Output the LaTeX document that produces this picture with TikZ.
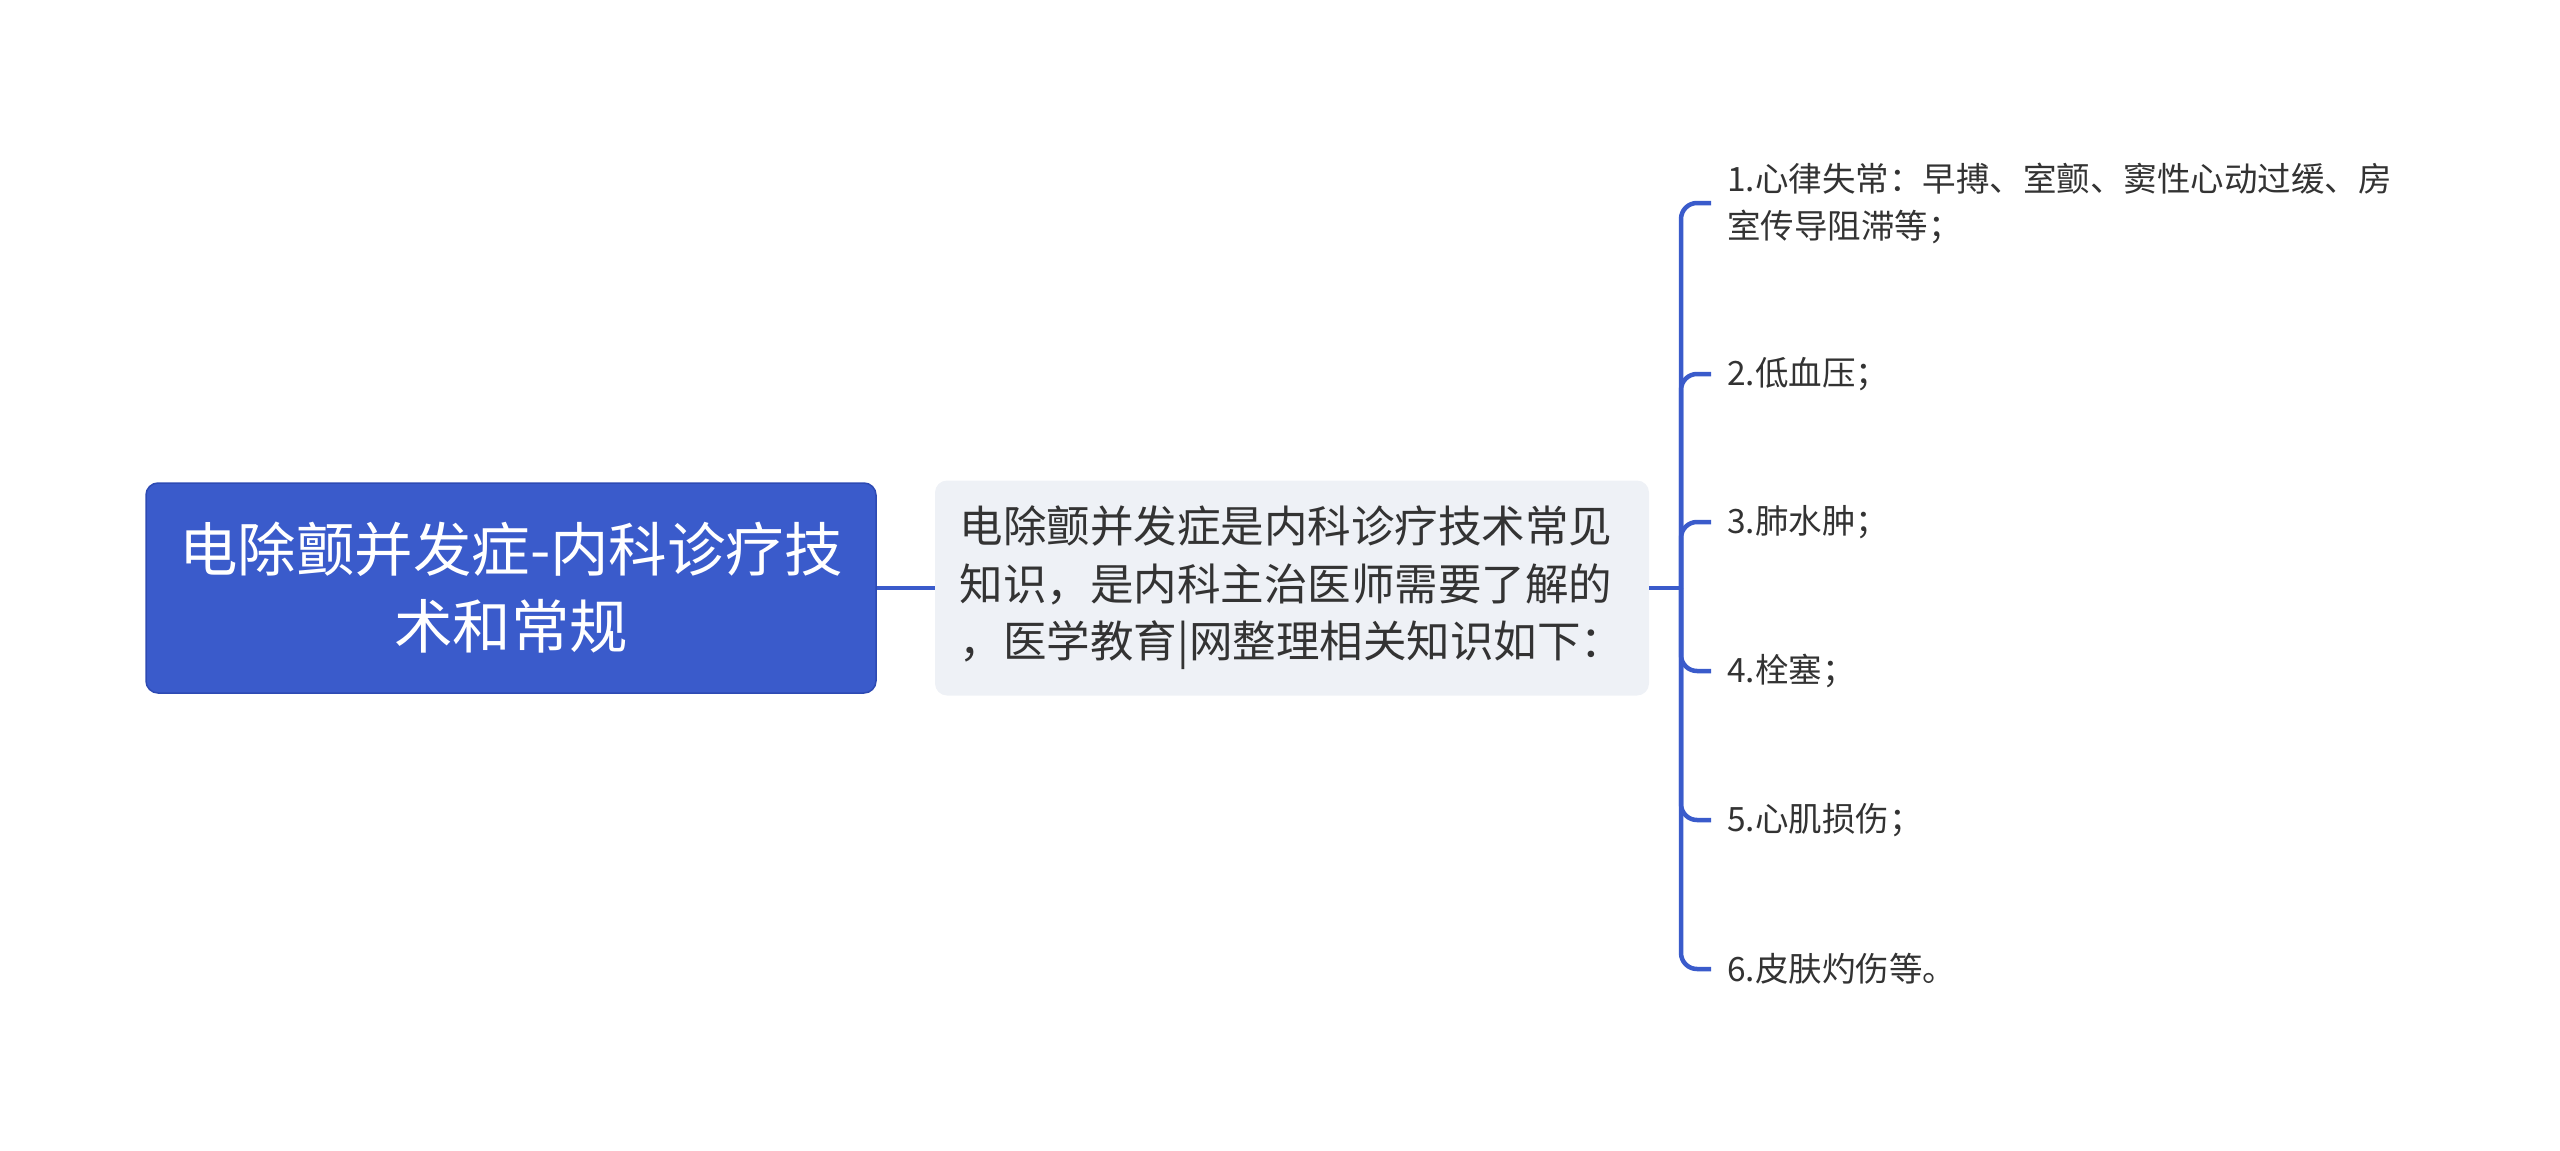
\documentclass[tikz,border=0pt]{standalone}
\usepackage{fontspec}
\setmainfont{Noto Sans CJK SC}
\usetikzlibrary{positioning}
\definecolor{mapblue}{HTML}{3A5BCB}
\definecolor{rootline}{HTML}{2D4AB3}
\definecolor{subfill}{HTML}{EEF1F6}
\definecolor{darktext}{HTML}{333333}
\tikzset{%
  rootbox/.style={draw=rootline,line width=1.5pt,fill=mapblue,
    rounded corners=12pt,text=white,minimum width=730pt,
    minimum height=210pt,align=center,
    font=\fontsize{58.5}{77}\selectfont},%
  subbox/.style={fill=subfill,rounded corners=12pt,text=darktext,
    minimum width=714pt,minimum height=215pt,align=left,
    font=\fontsize{43.5}{57.5}\selectfont},%
  leafnode/.style={anchor=west,inner xsep=16pt,inner ysep=0pt,
    text=darktext,align=left,font=\fontsize{33.5}{47}\selectfont},%
  branch/.style={draw=mapblue,line width=4.5pt,rounded corners=16pt}%
}
\begin{document}
\begin{tikzpicture}[x=1pt,y=-1pt]
  \useasboundingbox (0,0) rectangle (2560,1151);% page
  \node[rootbox] (root) at (511,588) {电除颤并发症-内科诊疗技\\术和常规};% main topic
  \node[subbox] (intro) at (1292,588)
    {电除颤并发症是内科诊疗技术常见\\知识，是内科主治医师需要了解的\\，医学教育|网整理相关知识如下：};% summary
  \coordinate (fork) at (1681,588);

  %leaves
  \node[leafnode] (l1) at (1711,203) {1.心律失常：早搏、室颤、窦性心动过缓、房\\室传导阻滞等；};
  \node[leafnode] (l2) at (1711,374) {2.低血压；};
  \node[leafnode] (l3) at (1711,522) {3.肺水肿；};
  \node[leafnode] (l4) at (1711,671) {4.栓塞；};
  \node[leafnode] (l5) at (1711,820) {5.心肌损伤；};
  \node[leafnode] (l6) at (1711,969) {6.皮肤灼伤等。};

  %connectors
  \draw[branch] (root.east) -- (intro.west);
  \draw[branch] (intro.east) -- (fork);
  \foreach \leaf in {l1,l2,l3,l4,l5,l6}
    \draw[branch] (fork) |- (\leaf.west);
\end{tikzpicture}
\end{document}
